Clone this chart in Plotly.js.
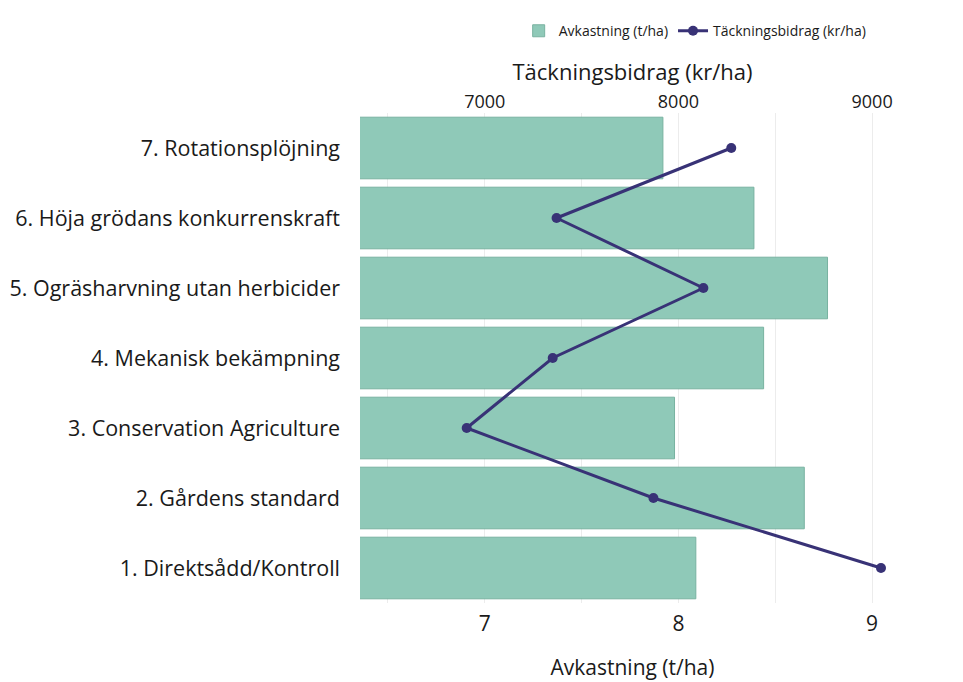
<!DOCTYPE html>
<html>
<head>
<meta charset="utf-8">
<script src="https://cdn.plot.ly/plotly-3.0.1.min.js"></script>
<style>html,body{margin:0;padding:0;background:#fff;}#chart{width:963px;height:682px;}</style>
</head>
<body>
<div id="chart"></div>
<script>
const categories = [
  "1. Direktsådd/Kontroll",
  "2. Gårdens standard",
  "3. Conservation Agriculture",
  "4. Mekanisk bekämpning",
  "5. Ogräsharvning utan herbicider",
  "6. Höja grödans konkurrenskraft",
  "7. Rotationsplöjning"
];
const avkastning = [8.09, 8.65, 7.98, 8.44, 8.77, 8.39, 7.92];
const tackningsbidrag = [9046, 7871, 6907, 7351, 8129, 7371, 8273];
const bottomTicks = [7, 8, 9];
const topTicks = [7000, 8000, 9000];

const FONT = "Open Sans, Noto Sans, sans-serif";

const traces = [
  {
    type: "bar",
    orientation: "h",
    name: "Avkastning (t/ha)",
    x: avkastning,
    y: categories,
    xaxis: "x",
    yaxis: "y",
    marker: {color: "rgb(143,201,184)", line: {color: "rgb(120,178,160)", width: 1}},
    hoverinfo: "x+y"
  },
  {
    type: "scatter",
    mode: "lines+markers",
    name: "Täckningsbidrag (kr/ha)",
    x: tackningsbidrag,
    y: categories,
    xaxis: "x2",
    yaxis: "y",
    line: {color: "rgb(56,50,118)", width: 3},
    marker: {color: "rgb(56,50,118)", size: 10}
  }
];

const layout = {
  width: 963,
  height: 682,
  margin: {l: 360, r: 58, t: 113, b: 79},
  paper_bgcolor: "#fff",
  plot_bgcolor: "#fff",
  font: {family: FONT, color: "#1a1a1a"},
  bargap: 0.12,
  showlegend: true,
  legend: {
    orientation: "h",
    x: 0.615, xanchor: "center",
    y: 1.167, yanchor: "middle",
    font: {size: 14, family: FONT},
    itemwidth: 30,
    tracegroupgap: 0
  },
  xaxis: {
    range: [6.356, 9.17],
    tickvals: bottomTicks,
    ticktext: bottomTicks.map(String),
    tickfont: {size: 21},
    ticklabelstandoff: 6,
    showgrid: true,
    gridcolor: "#ececec",
    minor: {dtick: 0.5, tick0: 0, showgrid: true, gridcolor: "#ececec"},
    zeroline: false,
    showline: false,
    ticks: "",
    title: {text: "Avkastning (t/ha)", font: {size: 21}, standoff: 24}
  },
  xaxis2: {
    overlaying: "x",
    side: "top",
    anchor: "y",
    range: [6356, 9170],
    tickvals: topTicks,
    ticktext: topTicks.map(String),
    tickfont: {size: 18},
    showgrid: false,
    zeroline: false,
    showline: false,
    ticks: "",
    title: {text: "Täckningsbidrag (kr/ha)", font: {size: 22}, standoff: 2}
  },
  yaxis: {
    type: "category",
    categoryorder: "array",
    categoryarray: categories,
    tickfont: {size: 21.5},
    showgrid: false,
    zeroline: false,
    showline: false,
    ticks: "",
    ticklabelstandoff: 19
  }
};

Plotly.newPlot("chart", traces, layout, {displayModeBar: false, staticPlot: true});
</script>
</body>
</html>
